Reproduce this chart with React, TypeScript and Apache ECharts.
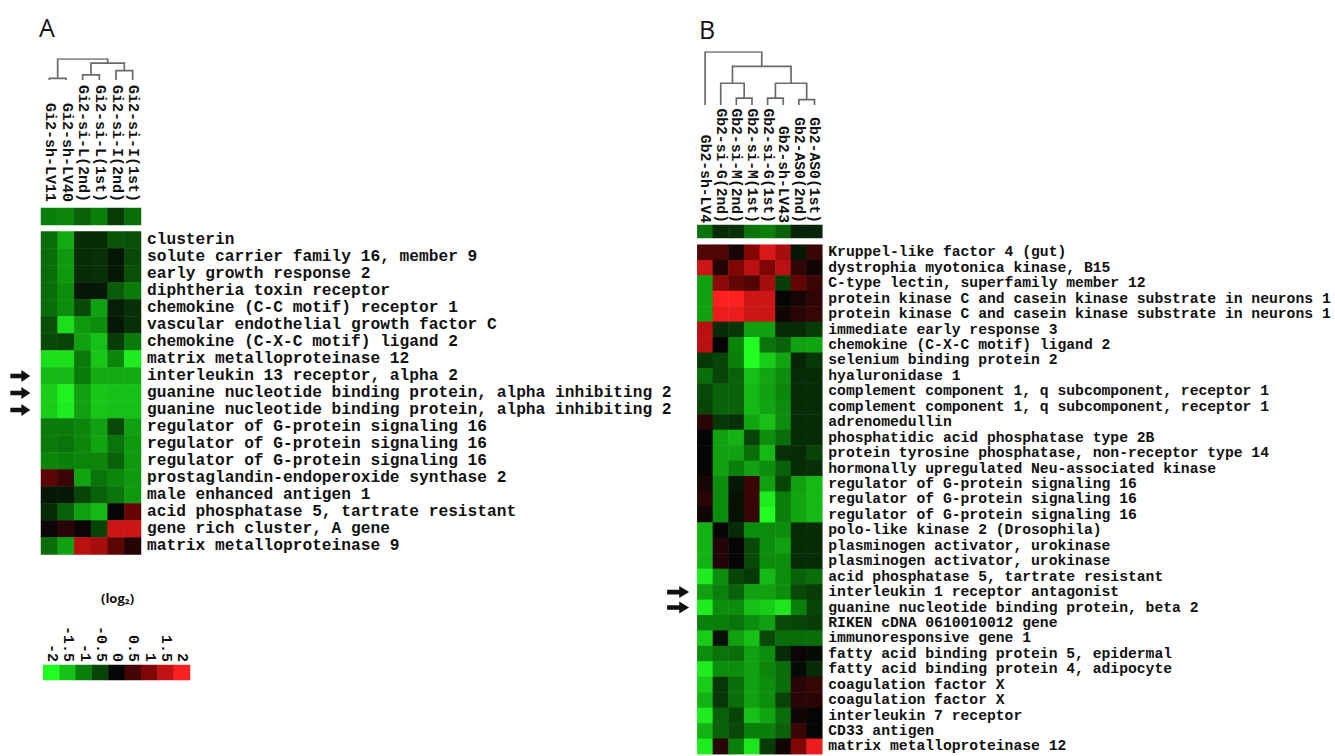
import React, { useEffect, useRef } from "react";
import * as echarts from "echarts";

// ---------- Panel A ----------
const colsA = ["Gi2-sh-LV11", "Gi2-sh-LV40", "Gi2-si-L(2nd)", "Gi2-si-L(1st)", "Gi2-si-I(2nd)", "Gi2-si-I(1st)"];
const rowsA = [
  "clusterin",
  "solute carrier family 16, member 9",
  "early growth response 2",
  "diphtheria toxin receptor",
  "chemokine (C-C motif) receptor 1",
  "vascular endothelial growth factor C",
  "chemokine (C-X-C motif) ligand 2",
  "matrix metalloproteinase 12",
  "interleukin 13 receptor, alpha 2",
  "guanine nucleotide binding protein, alpha inhibiting 2",
  "guanine nucleotide binding protein, alpha inhibiting 2",
  "regulator of G-protein signaling 16",
  "regulator of G-protein signaling 16",
  "regulator of G-protein signaling 16",
  "prostaglandin-endoperoxide synthase 2",
  "male enhanced antigen 1",
  "acid phosphatase 5, tartrate resistant",
  "gene rich cluster, A gene",
  "matrix metalloproteinase 9",
];
const barA = [-1.0, -1.05, -0.75, -1.0, -0.45, -0.85];
const valuesA = [
  [-0.85, -1.35, -0.3, -0.3, -0.65, -0.6],
  [-0.85, -1.2, -0.3, -0.35, -0.15, -0.55],
  [-0.85, -1.2, -0.3, -0.35, -0.15, -0.6],
  [-0.85, -1.1, -0.15, -0.15, -0.7, -0.95],
  [-0.85, -1.1, -0.55, -1.25, -0.2, -0.35],
  [-0.6, -1.75, -1.2, -1.1, -0.15, -0.35],
  [-0.55, -0.5, -1.25, -1.5, -0.45, -0.95],
  [-1.75, -1.75, -0.95, -1.55, -1.05, -1.85],
  [-1.45, -1.45, -0.95, -1.35, -1.35, -1.35],
  [-1.6, -1.9, -1.25, -1.55, -1.5, -1.5],
  [-1.6, -1.85, -1.25, -1.55, -1.5, -1.5],
  [-0.95, -0.95, -1.05, -1.25, -0.55, -1.25],
  [-0.95, -0.9, -1.05, -1.3, -0.9, -1.2],
  [-1.05, -1.0, -1.05, -1.05, -0.75, -1.2],
  [0.7, 0.45, -1.3, -0.9, -1.05, -1.2],
  [-0.15, -0.15, -0.5, -0.75, -0.9, -1.2],
  [-0.3, -0.75, -1.25, -1.45, 0.0, 0.8],
  [0.05, 0.3, 0.05, -0.5, 1.6, 1.6],
  [-0.85, -1.25, 1.45, 1.3, 0.7, 0.25],
];
// merges: [left node, right node, height]; leaves are 0..n-1, new nodes appended
const dendroA = [
  [0, 1, 0.08],
  [2, 3, 0.24],
  [4, 5, 0.45],
  [7, 8, 0.8],
  [6, 9, 1.0],
];
const arrowRowsA = [8, 9, 10];

// ---------- Panel B ----------
const colsB = ["Gb2-sh-LV4", "Gb2-si-G(2nd)", "Gb2-si-M(2nd)", "Gb2-si-M(1st)", "Gb2-si-G(1st)", "Gb2-sh-LV43", "Gb2-AS0(2nd)", "Gb2-AS0(1st)"];
const rowsB = [
  "Kruppel-like factor 4 (gut)",
  "dystrophia myotonica kinase, B15",
  "C-type lectin, superfamily member 12",
  "protein kinase C and casein kinase substrate in neurons 1",
  "protein kinase C and casein kinase substrate in neurons 1",
  "immediate early response 3",
  "chemokine (C-X-C motif) ligand 2",
  "selenium binding protein 2",
  "hyaluronidase 1",
  "complement component 1, q subcomponent, receptor 1",
  "complement component 1, q subcomponent, receptor 1",
  "adrenomedullin",
  "phosphatidic acid phosphatase type 2B",
  "protein tyrosine phosphatase, non-receptor type 14",
  "hormonally upregulated Neu-associated kinase",
  "regulator of G-protein signaling 16",
  "regulator of G-protein signaling 16",
  "regulator of G-protein signaling 16",
  "polo-like kinase 2 (Drosophila)",
  "plasminogen activator, urokinase",
  "plasminogen activator, urokinase",
  "acid phosphatase 5, tartrate resistant",
  "interleukin 1 receptor antagonist",
  "guanine nucleotide binding protein, beta 2",
  "RIKEN cDNA 0610010012 gene",
  "immunoresponsive gene 1",
  "fatty acid binding protein 5, epidermal",
  "fatty acid binding protein 4, adipocyte",
  "coagulation factor X",
  "coagulation factor X",
  "interleukin 7 receptor",
  "CD33 antigen",
  "matrix metalloproteinase 12",
];
const barB = [-0.9, -0.3, -0.35, -0.9, -1.0, -0.75, -0.25, -0.25];
const valuesB = [
  [0.6, 0.6, 0.15, 1.05, 1.7, 1.3, -0.15, 0.45],
  [1.6, 0.25, 1.0, 1.45, 1.0, 1.45, 0.35, 0.1],
  [-1.25, 1.1, 0.75, 0.6, 1.3, -0.45, 0.75, 0.45],
  [-1.25, 2.0, 2.0, 1.6, 1.6, 0.0, 0.15, 0.35],
  [-1.25, 1.85, 1.85, 1.6, 1.6, 0.1, 0.3, 0.4],
  [1.45, -0.3, -0.4, -1.25, -1.25, -0.3, -0.3, -0.45],
  [1.45, 0.0, -1.05, -2.0, -0.9, -0.75, -1.25, -1.3],
  [-0.4, -0.5, -1.0, -2.0, -1.6, -1.3, -0.25, -0.4],
  [-0.85, -0.5, -0.75, -1.5, -1.3, -1.1, -0.3, -0.3],
  [-0.55, -0.75, -0.75, -1.45, -1.25, -1.05, -0.3, -0.3],
  [-0.5, -0.75, -0.75, -1.45, -1.3, -1.1, -0.3, -0.3],
  [0.3, -0.4, -0.35, -1.3, -1.5, -1.1, -0.3, -0.3],
  [0.0, -1.25, -1.4, -0.5, -1.1, -0.85, -0.3, -0.3],
  [0.0, -1.25, -1.25, -0.85, -1.45, -0.35, -0.3, -0.5],
  [0.0, -1.25, -1.0, -1.25, -1.1, -0.75, -0.3, -0.35],
  [0.15, -1.1, -0.15, 0.45, -1.25, -0.5, -1.25, -1.45],
  [0.3, -1.1, -0.1, 0.45, -1.85, -1.0, -1.3, -1.45],
  [0.1, -1.1, -0.1, 0.4, -2.0, -1.0, -1.3, -1.45],
  [-1.4, 0.0, -0.3, -1.1, -1.1, -1.1, -0.3, -0.3],
  [-1.4, 0.25, 0.0, -0.55, -1.1, -1.25, -0.3, -0.3],
  [-1.4, 0.25, 0.0, -0.55, -1.1, -1.1, -0.3, -0.3],
  [-1.85, -1.1, -0.5, -0.4, -1.45, -1.1, -0.75, -0.85],
  [-1.25, -1.0, -0.75, -1.25, -1.25, -1.1, -0.55, -0.45],
  [-1.85, -1.1, -1.1, -1.5, -1.6, -1.8, -1.0, -0.5],
  [-1.0, -1.0, -0.9, -1.1, -1.25, -0.55, -0.5, -0.45],
  [-1.6, -0.1, -1.25, -1.5, -0.55, -0.85, -0.85, -0.85],
  [-1.1, -0.9, -0.85, -1.25, -1.1, -0.3, 0.05, -0.05],
  [-1.85, -1.1, -1.1, -1.25, -1.05, -0.85, -0.05, -0.3],
  [-1.6, -0.4, -0.85, -1.25, -1.1, -0.85, 0.3, 0.4],
  [-1.4, -0.4, -0.85, -1.25, -1.1, -0.5, 0.3, 0.3],
  [-1.85, -0.75, -0.5, -1.5, -1.3, -0.85, 0.1, 0.0],
  [-1.4, -0.75, -0.55, -1.0, -1.0, -0.75, 0.45, 0.0],
  [-1.85, 0.3, -1.0, -1.8, -0.45, 0.1, 1.0, 1.85],
];
const dendroB = [
  [2, 3, 0.13],
  [1, 8, 0.41],
  [4, 5, 0.13],
  [6, 7, 0.1],
  [10, 11, 0.41],
  [9, 12, 0.73],
  [0, 13, 1.0],
];
const arrowRowsB = [22, 23];

// ---------- Colour key ----------
const keyValues = [-2, -1.5, -1, -0.5, 0, 0.5, 1, 1.5, 2];
const keyLabels = ["-2", "-1.5", "-1", "-0.5", "0", "0.5", "1", "1.5", "2"];

const MONO = "'Liberation Mono', 'DejaVu Sans Mono', monospace";
const ARROW = "path://M0,4L11,4L11,0L20,6.5L11,13L11,9L0,9Z";

function idx(n: number) {
  return Array.from({ length: n }, (_, i) => String(i));
}
function cells(rows: number[][]) {
  const out: number[][] = [];
  rows.forEach((row, r) => row.forEach((v, c) => out.push([c, r, v])));
  return out;
}
function dendroLines(merges: number[][], n: number) {
  const xs: number[] = Array.from({ length: n }, (_, i) => i);
  const hs: number[] = Array.from({ length: n }, () => 0);
  const out: any[] = [];
  merges.forEach(([l, r, h]) => {
    out.push({ coords: [[xs[l], hs[l]], [xs[l], h], [xs[r], h], [xs[r], hs[r]]] });
    xs.push((xs[l] + xs[r]) / 2);
    hs.push(h);
  });
  return out;
}

const hiddenCat = (gridIndex: number, data: string[], extra: any = {}) => ({
  type: "category", gridIndex, data, show: false, ...extra,
});

export default function App() {
  const ref = useRef<HTMLDivElement>(null);
  useEffect(() => {
    if (!ref.current) return;
    const chart = echarts.init(ref.current, null, { renderer: "svg" });
    const rowLabel = (rows: string[], size: number) => ({
      show: true, interval: 0, margin: 6, color: "#111", fontFamily: MONO, fontWeight: "bold", fontSize: size,
      formatter: (v: string) => rows[+v],
    });
    const noLine = { axisLine: { show: false }, axisTick: { show: false }, splitLine: { show: false } };
    const colLabel = (size: number, margin: number) => ({
      show: true, interval: 0, rotate: 90, margin, color: "#111", fontFamily: MONO, fontWeight: "bold", fontSize: size,
    });
    const arrows = (rows: number[], offset: number, w: number) => ({
      symbol: ARROW, symbolSize: [w, 12], symbolOffset: [offset, 0], silent: true,
      itemStyle: { color: "#111" }, label: { show: false },
      data: rows.map((r) => ({ coord: [0, r] })),
    });
    const option: any = {
      animation: false,
      backgroundColor: "#ffffff",
      grid: [
        { left: 41, top: 59, width: 100, height: 21 },
        { left: 41, top: 208, width: 100, height: 17 },
        { left: 41, top: 231.5, width: 100, height: 323 },
        { left: 697.3, top: 52, width: 125, height: 53 },
        { left: 697.3, top: 225, width: 125, height: 13 },
        { left: 697.3, top: 244.7, width: 125, height: 509.5 },
        { left: 43.3, top: 665, width: 146.7, height: 15 },
      ],
      xAxis: [
        { type: "value", gridIndex: 0, min: -0.5, max: colsA.length - 0.5, show: false },
        { type: "category", gridIndex: 1, data: colsA, position: "top", axisLabel: colLabel(15, 6), ...noLine },
        hiddenCat(2, idx(colsA.length)),
        { type: "value", gridIndex: 3, min: -0.5, max: colsB.length - 0.5, show: false },
        { type: "category", gridIndex: 4, data: colsB, position: "top", axisLabel: colLabel(14.7, 2), ...noLine },
        hiddenCat(5, idx(colsB.length)),
        { type: "category", gridIndex: 6, data: keyLabels, position: "top", axisLabel: colLabel(15, 3), ...noLine },
      ],
      yAxis: [
        { type: "value", gridIndex: 0, min: 0, max: 1, show: false },
        hiddenCat(1, ["0"]),
        { type: "category", gridIndex: 2, data: idx(rowsA.length), inverse: true, position: "right", axisLabel: rowLabel(rowsA, 16.2), ...noLine },
        { type: "value", gridIndex: 3, min: 0, max: 1, show: false },
        hiddenCat(4, ["0"]),
        { type: "category", gridIndex: 5, data: idx(rowsB.length), inverse: true, position: "right", axisLabel: rowLabel(rowsB, 14.7), ...noLine },
        hiddenCat(6, ["0"]),
      ],
      visualMap: {
        type: "continuous", min: -2, max: 2, show: false, seriesIndex: [0, 1, 2, 3, 4],
        inRange: { color: ["#22ff22", "#0a800a", "#050505", "#800505", "#ff2020"] },
      },
      graphic: [
        { type: "text", left: 39, top: 14, style: { text: "A", fontSize: 25, fontFamily: "'Open Sans', sans-serif", fill: "#111" } },
        { type: "text", left: 699, top: 16, style: { text: "B", fontSize: 25, fontFamily: "'Open Sans', sans-serif", fill: "#111" } },
        { type: "text", left: 101, top: 591, style: { text: "(log\u2082)", fontSize: 13, fontWeight: "bold", fontFamily: "'Open Sans', 'Noto Sans', sans-serif", fill: "#111" } },
      ],
      series: [
        { type: "heatmap", xAxisIndex: 1, yAxisIndex: 1, data: barA.map((v, c) => [c, 0, v]), itemStyle: { borderWidth: 0 } },
        {
          type: "heatmap", xAxisIndex: 2, yAxisIndex: 2, data: cells(valuesA), itemStyle: { borderWidth: 0 },
          markPoint: arrows(arrowRowsA, -29, 20),
        },
        { type: "heatmap", xAxisIndex: 4, yAxisIndex: 4, data: barB.map((v, c) => [c, 0, v]), itemStyle: { borderWidth: 0 } },
        {
          type: "heatmap", xAxisIndex: 5, yAxisIndex: 5, data: cells(valuesB), itemStyle: { borderWidth: 0 },
          markPoint: arrows(arrowRowsB, -27, 22),
        },
        { type: "heatmap", xAxisIndex: 6, yAxisIndex: 6, data: keyValues.map((v, c) => [c, 0, v]), itemStyle: { borderWidth: 0 } },
        {
          type: "lines", coordinateSystem: "cartesian2d", xAxisIndex: 0, yAxisIndex: 0, polyline: true, silent: true,
          data: dendroLines(dendroA, colsA.length), lineStyle: { color: "#6a6a6a", width: 1.7, opacity: 1 },
        },
        {
          type: "lines", coordinateSystem: "cartesian2d", xAxisIndex: 3, yAxisIndex: 3, polyline: true, silent: true,
          data: dendroLines(dendroB, colsB.length), lineStyle: { color: "#6a6a6a", width: 1.7, opacity: 1 },
        },
      ],
    };
    chart.setOption(option);
    return () => chart.dispose();
  }, []);
  return <div ref={ref} style={{ position: "fixed", left: 0, top: 0, width: 1335, height: 756, background: "#fff" }} />;
}
